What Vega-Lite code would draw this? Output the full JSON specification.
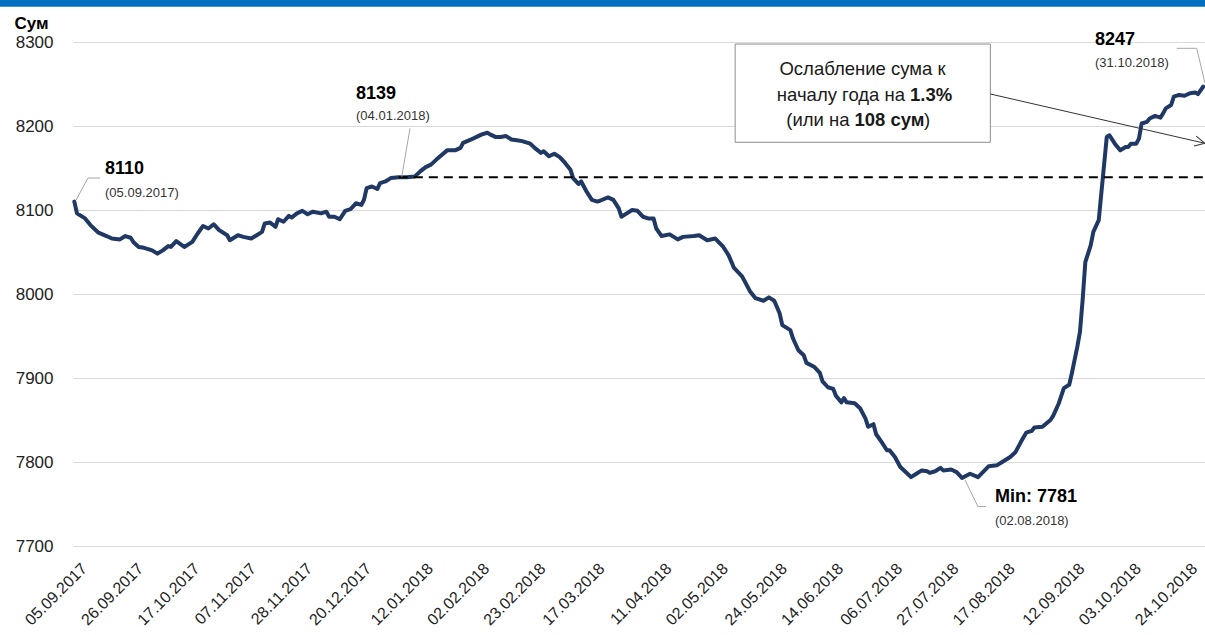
{
  "$schema": "https://vega.github.io/schema/vega-lite/v6.json",
  "width": 1133,
  "height": 504,
  "autosize": {"type": "none"},
  "padding": {"left": 73, "top": 42, "right": 0, "bottom": 89},
  "background": "white",
  "config": {"view": {"stroke": null}, "font": "Liberation Sans"},
  "layer": [
    {
      "data": {"values": [{}]},
      "mark": {"type": "rect", "color": "#0070C0", "clip": false},
      "encoding": {
        "x": {"datum": {"year": 2017, "month": 7, "date": 1, "utc": true}, "type": "temporal"},
        "x2": {"datum": {"year": 2018, "month": 12, "date": 1, "utc": true}},
        "y": {"datum": 8342, "type": "quantitative"},
        "y2": {"datum": 8420}
      }
    },
    {
      "data": {"values": [
        {"date": "2017-09-05", "rate": 8110}, {"date": "2017-09-06", "rate": 8096}, {"date": "2017-09-09", "rate": 8090},
        {"date": "2017-09-11", "rate": 8082}, {"date": "2017-09-14", "rate": 8073}, {"date": "2017-09-17", "rate": 8069},
        {"date": "2017-09-19", "rate": 8066}, {"date": "2017-09-22", "rate": 8065}, {"date": "2017-09-24", "rate": 8069},
        {"date": "2017-09-26", "rate": 8067}, {"date": "2017-09-27", "rate": 8062}, {"date": "2017-09-29", "rate": 8056},
        {"date": "2017-10-01", "rate": 8055}, {"date": "2017-10-04", "rate": 8052}, {"date": "2017-10-06", "rate": 8048},
        {"date": "2017-10-08", "rate": 8052}, {"date": "2017-10-10", "rate": 8057}, {"date": "2017-10-11", "rate": 8056},
        {"date": "2017-10-13", "rate": 8063}, {"date": "2017-10-16", "rate": 8056}, {"date": "2017-10-19", "rate": 8062},
        {"date": "2017-10-21", "rate": 8072}, {"date": "2017-10-23", "rate": 8081}, {"date": "2017-10-25", "rate": 8078},
        {"date": "2017-10-27", "rate": 8083}, {"date": "2017-10-29", "rate": 8076}, {"date": "2017-11-01", "rate": 8070},
        {"date": "2017-11-02", "rate": 8064}, {"date": "2017-11-05", "rate": 8070}, {"date": "2017-11-07", "rate": 8068},
        {"date": "2017-11-10", "rate": 8066}, {"date": "2017-11-12", "rate": 8070}, {"date": "2017-11-14", "rate": 8074},
        {"date": "2017-11-15", "rate": 8084}, {"date": "2017-11-17", "rate": 8085}, {"date": "2017-11-19", "rate": 8080},
        {"date": "2017-11-20", "rate": 8089}, {"date": "2017-11-22", "rate": 8086}, {"date": "2017-11-24", "rate": 8093},
        {"date": "2017-11-25", "rate": 8091}, {"date": "2017-11-27", "rate": 8096}, {"date": "2017-11-29", "rate": 8099},
        {"date": "2017-12-01", "rate": 8095}, {"date": "2017-12-03", "rate": 8098}, {"date": "2017-12-06", "rate": 8096},
        {"date": "2017-12-08", "rate": 8098}, {"date": "2017-12-09", "rate": 8092}, {"date": "2017-12-11", "rate": 8092},
        {"date": "2017-12-13", "rate": 8089}, {"date": "2017-12-15", "rate": 8099}, {"date": "2017-12-17", "rate": 8101},
        {"date": "2017-12-19", "rate": 8108}, {"date": "2017-12-21", "rate": 8106}, {"date": "2017-12-22", "rate": 8112},
        {"date": "2017-12-23", "rate": 8126}, {"date": "2017-12-25", "rate": 8128}, {"date": "2017-12-27", "rate": 8125},
        {"date": "2017-12-28", "rate": 8132}, {"date": "2017-12-30", "rate": 8134}, {"date": "2018-01-01", "rate": 8138},
        {"date": "2018-01-04", "rate": 8139}, {"date": "2018-01-07", "rate": 8139}, {"date": "2018-01-10", "rate": 8140},
        {"date": "2018-01-12", "rate": 8146}, {"date": "2018-01-14", "rate": 8151}, {"date": "2018-01-16", "rate": 8154},
        {"date": "2018-01-18", "rate": 8160}, {"date": "2018-01-22", "rate": 8171}, {"date": "2018-01-25", "rate": 8171},
        {"date": "2018-01-27", "rate": 8174}, {"date": "2018-01-28", "rate": 8180}, {"date": "2018-01-31", "rate": 8184},
        {"date": "2018-02-02", "rate": 8187}, {"date": "2018-02-04", "rate": 8190}, {"date": "2018-02-06", "rate": 8192},
        {"date": "2018-02-07", "rate": 8190}, {"date": "2018-02-09", "rate": 8187}, {"date": "2018-02-11", "rate": 8187},
        {"date": "2018-02-13", "rate": 8188}, {"date": "2018-02-15", "rate": 8184}, {"date": "2018-02-17", "rate": 8183},
        {"date": "2018-02-19", "rate": 8182}, {"date": "2018-02-22", "rate": 8179}, {"date": "2018-02-24", "rate": 8173},
        {"date": "2018-02-26", "rate": 8168}, {"date": "2018-02-27", "rate": 8170}, {"date": "2018-03-01", "rate": 8164},
        {"date": "2018-03-03", "rate": 8167}, {"date": "2018-03-05", "rate": 8163}, {"date": "2018-03-07", "rate": 8156},
        {"date": "2018-03-09", "rate": 8148}, {"date": "2018-03-10", "rate": 8138}, {"date": "2018-03-12", "rate": 8131},
        {"date": "2018-03-13", "rate": 8134}, {"date": "2018-03-15", "rate": 8122}, {"date": "2018-03-17", "rate": 8112},
        {"date": "2018-03-19", "rate": 8110}, {"date": "2018-03-20", "rate": 8111}, {"date": "2018-03-23", "rate": 8115},
        {"date": "2018-03-25", "rate": 8112}, {"date": "2018-03-27", "rate": 8102}, {"date": "2018-03-28", "rate": 8092},
        {"date": "2018-03-30", "rate": 8096}, {"date": "2018-04-01", "rate": 8100}, {"date": "2018-04-03", "rate": 8099},
        {"date": "2018-04-05", "rate": 8092}, {"date": "2018-04-07", "rate": 8090}, {"date": "2018-04-09", "rate": 8090},
        {"date": "2018-04-10", "rate": 8078}, {"date": "2018-04-12", "rate": 8069}, {"date": "2018-04-15", "rate": 8071},
        {"date": "2018-04-18", "rate": 8065}, {"date": "2018-04-20", "rate": 8068}, {"date": "2018-04-24", "rate": 8069},
        {"date": "2018-04-26", "rate": 8070}, {"date": "2018-04-29", "rate": 8064}, {"date": "2018-05-02", "rate": 8066},
        {"date": "2018-05-05", "rate": 8056}, {"date": "2018-05-07", "rate": 8046}, {"date": "2018-05-09", "rate": 8031},
        {"date": "2018-05-12", "rate": 8021}, {"date": "2018-05-13", "rate": 8015}, {"date": "2018-05-15", "rate": 8003},
        {"date": "2018-05-17", "rate": 7995}, {"date": "2018-05-20", "rate": 7992}, {"date": "2018-05-22", "rate": 7996},
        {"date": "2018-05-24", "rate": 7992}, {"date": "2018-05-26", "rate": 7977}, {"date": "2018-05-27", "rate": 7963},
        {"date": "2018-05-30", "rate": 7957}, {"date": "2018-05-31", "rate": 7947}, {"date": "2018-06-02", "rate": 7933},
        {"date": "2018-06-04", "rate": 7927}, {"date": "2018-06-05", "rate": 7918}, {"date": "2018-06-08", "rate": 7913},
        {"date": "2018-06-10", "rate": 7906}, {"date": "2018-06-11", "rate": 7896}, {"date": "2018-06-13", "rate": 7889},
        {"date": "2018-06-15", "rate": 7887}, {"date": "2018-06-16", "rate": 7879}, {"date": "2018-06-18", "rate": 7871},
        {"date": "2018-06-19", "rate": 7876}, {"date": "2018-06-20", "rate": 7871}, {"date": "2018-06-23", "rate": 7870},
        {"date": "2018-06-25", "rate": 7864}, {"date": "2018-06-27", "rate": 7852}, {"date": "2018-06-28", "rate": 7842},
        {"date": "2018-06-30", "rate": 7845}, {"date": "2018-07-01", "rate": 7833}, {"date": "2018-07-03", "rate": 7824},
        {"date": "2018-07-05", "rate": 7814}, {"date": "2018-07-06", "rate": 7814}, {"date": "2018-07-08", "rate": 7806},
        {"date": "2018-07-10", "rate": 7794}, {"date": "2018-07-12", "rate": 7788}, {"date": "2018-07-14", "rate": 7782},
        {"date": "2018-07-16", "rate": 7786}, {"date": "2018-07-18", "rate": 7790}, {"date": "2018-07-20", "rate": 7789},
        {"date": "2018-07-21", "rate": 7787}, {"date": "2018-07-23", "rate": 7789}, {"date": "2018-07-25", "rate": 7793},
        {"date": "2018-07-26", "rate": 7790}, {"date": "2018-07-29", "rate": 7791}, {"date": "2018-07-31", "rate": 7788},
        {"date": "2018-08-02", "rate": 7781}, {"date": "2018-08-05", "rate": 7786}, {"date": "2018-08-08", "rate": 7782},
        {"date": "2018-08-12", "rate": 7795}, {"date": "2018-08-15", "rate": 7796}, {"date": "2018-08-17", "rate": 7800},
        {"date": "2018-08-20", "rate": 7806}, {"date": "2018-08-22", "rate": 7812}, {"date": "2018-08-24", "rate": 7824},
        {"date": "2018-08-26", "rate": 7835}, {"date": "2018-08-28", "rate": 7837}, {"date": "2018-08-29", "rate": 7841},
        {"date": "2018-09-01", "rate": 7842}, {"date": "2018-09-04", "rate": 7850}, {"date": "2018-09-05", "rate": 7855},
        {"date": "2018-09-07", "rate": 7869}, {"date": "2018-09-09", "rate": 7888}, {"date": "2018-09-11", "rate": 7892},
        {"date": "2018-09-12", "rate": 7906}, {"date": "2018-09-14", "rate": 7937}, {"date": "2018-09-15", "rate": 7955},
        {"date": "2018-09-16", "rate": 7993}, {"date": "2018-09-17", "rate": 8038}, {"date": "2018-09-19", "rate": 8058},
        {"date": "2018-09-20", "rate": 8074}, {"date": "2018-09-22", "rate": 8088}, {"date": "2018-09-25", "rate": 8187},
        {"date": "2018-09-26", "rate": 8189}, {"date": "2018-09-28", "rate": 8179}, {"date": "2018-09-30", "rate": 8171},
        {"date": "2018-10-02", "rate": 8175}, {"date": "2018-10-03", "rate": 8175}, {"date": "2018-10-04", "rate": 8179},
        {"date": "2018-10-06", "rate": 8179}, {"date": "2018-10-07", "rate": 8185}, {"date": "2018-10-08", "rate": 8203},
        {"date": "2018-10-10", "rate": 8205}, {"date": "2018-10-11", "rate": 8209}, {"date": "2018-10-13", "rate": 8212},
        {"date": "2018-10-15", "rate": 8210}, {"date": "2018-10-16", "rate": 8215}, {"date": "2018-10-17", "rate": 8221},
        {"date": "2018-10-19", "rate": 8225}, {"date": "2018-10-20", "rate": 8235}, {"date": "2018-10-22", "rate": 8237},
        {"date": "2018-10-24", "rate": 8236}, {"date": "2018-10-26", "rate": 8239}, {"date": "2018-10-28", "rate": 8240},
        {"date": "2018-10-29", "rate": 8238}, {"date": "2018-10-31", "rate": 8247}
      ]},
      "mark": {"type": "line", "color": "#203864", "strokeWidth": 4, "strokeJoin": "round", "strokeCap": "round"},
      "encoding": {
        "x": {
          "field": "date", "type": "temporal",
          "scale": {"type": "utc", "domain": [{"year": 2017, "month": 9, "date": 4, "hours": 12, "utc": true}, {"year": 2018, "month": 11, "date": 1, "utc": true}]},
          "axis": {
            "values": [
              {"year": 2017, "month": 9, "date": 5, "utc": true}, {"year": 2017, "month": 9, "date": 26, "utc": true},
              {"year": 2017, "month": 10, "date": 17, "utc": true}, {"year": 2017, "month": 11, "date": 7, "utc": true},
              {"year": 2017, "month": 11, "date": 28, "utc": true}, {"year": 2017, "month": 12, "date": 20, "utc": true},
              {"year": 2018, "month": 1, "date": 12, "utc": true}, {"year": 2018, "month": 2, "date": 2, "utc": true},
              {"year": 2018, "month": 2, "date": 23, "utc": true}, {"year": 2018, "month": 3, "date": 17, "utc": true},
              {"year": 2018, "month": 4, "date": 11, "utc": true}, {"year": 2018, "month": 5, "date": 2, "utc": true},
              {"year": 2018, "month": 5, "date": 24, "utc": true}, {"year": 2018, "month": 6, "date": 14, "utc": true},
              {"year": 2018, "month": 7, "date": 6, "utc": true}, {"year": 2018, "month": 7, "date": 27, "utc": true},
              {"year": 2018, "month": 8, "date": 17, "utc": true}, {"year": 2018, "month": 9, "date": 12, "utc": true},
              {"year": 2018, "month": 10, "date": 3, "utc": true}, {"year": 2018, "month": 10, "date": 24, "utc": true}
            ],
            "format": "%d.%m.%Y", "labelAngle": -45, "labelFontSize": 16, "labelColor": "#222222",
            "labelOffset": 4, "labelPadding": 14, "ticks": false, "domain": false, "grid": false,
            "title": null, "labelOverlap": false, "labelFlush": false, "labelBound": false
          }
        },
        "y": {
          "field": "rate", "type": "quantitative",
          "scale": {"domain": [7700, 8300], "nice": false, "zero": false},
          "axis": {
            "values": [7700, 7800, 7900, 8000, 8100, 8200, 8300], "format": "d",
            "labelFontSize": 17, "labelColor": "#222222", "labelPadding": 20, "ticks": false, "domain": false,
            "grid": true, "gridColor": "#d9d9d9", "gridWidth": 1,
            "title": "Сум", "titleAngle": 0, "titleFontSize": 17, "titleFontWeight": "bold", "titleColor": "#000000",
            "titleAlign": "left", "titleBaseline": "alphabetic", "titleX": -59, "titleY": -14
          }
        }
      }
    },
    {
      "data": {"values": [{}]},
      "mark": {"type": "rule", "color": "#000000", "strokeWidth": 2, "strokeDash": [9, 6]},
      "encoding": {
        "x": {"datum": {"year": 2018, "month": 1, "date": 4, "utc": true}, "type": "temporal"},
        "x2": {"datum": {"year": 2018, "month": 11, "date": 1, "utc": true}},
        "y": {"datum": 8139, "type": "quantitative"}
      }
    },
    {
      "data": {"values": [{}]},
      "mark": {"type": "rect", "fill": "#ffffff", "stroke": "#8c8c8c", "strokeWidth": 1},
      "encoding": {
        "x": {"datum": {"year": 2018, "month": 5, "date": 9, "hours": 10, "utc": true}, "type": "temporal"},
        "x2": {"datum": {"year": 2018, "month": 8, "date": 12, "hours": 14, "utc": true}},
        "y": {"datum": 8297.6, "type": "quantitative"},
        "y2": {"datum": 8180.6}
      }
    },
    {
      "data": {"values": [{}]},
      "mark": {"type": "text", "text": "Ослабление сума к", "fontSize": 18.5, "color": "#1a1a1a", "align": "center", "baseline": "middle", "dy": 27},
      "encoding": {"x": {"datum": {"year": 2018, "month": 6, "date": 25, "hours": 22, "utc": true}, "type": "temporal"}, "y": {"datum": 8300, "type": "quantitative"}}
    },
    {
      "data": {"values": [{}]},
      "mark": {"type": "text", "text": "началу года на", "fontSize": 18.5, "color": "#1a1a1a", "align": "right", "baseline": "middle", "dx": 42.5, "dy": 52.7},
      "encoding": {"x": {"datum": {"year": 2018, "month": 6, "date": 25, "hours": 22, "utc": true}, "type": "temporal"}, "y": {"datum": 8300, "type": "quantitative"}}
    },
    {
      "data": {"values": [{}]},
      "mark": {"type": "text", "text": "1.3%", "fontSize": 18.5, "fontWeight": "bold", "color": "#1a1a1a", "align": "left", "baseline": "middle", "dx": 47.5, "dy": 52.7},
      "encoding": {"x": {"datum": {"year": 2018, "month": 6, "date": 25, "hours": 22, "utc": true}, "type": "temporal"}, "y": {"datum": 8300, "type": "quantitative"}}
    },
    {
      "data": {"values": [{}]},
      "mark": {"type": "text", "text": "(или на", "fontSize": 18.5, "color": "#1a1a1a", "align": "right", "baseline": "middle", "dx": -13, "dy": 77.7},
      "encoding": {"x": {"datum": {"year": 2018, "month": 6, "date": 25, "hours": 22, "utc": true}, "type": "temporal"}, "y": {"datum": 8300, "type": "quantitative"}}
    },
    {
      "data": {"values": [{}]},
      "mark": {"type": "text", "text": "108 сум", "fontSize": 18.5, "fontWeight": "bold", "color": "#1a1a1a", "align": "left", "baseline": "middle", "dx": -8, "dy": 77.7},
      "encoding": {"x": {"datum": {"year": 2018, "month": 6, "date": 25, "hours": 22, "utc": true}, "type": "temporal"}, "y": {"datum": 8300, "type": "quantitative"}}
    },
    {
      "data": {"values": [{}]},
      "mark": {"type": "text", "text": ")", "fontSize": 18.5, "color": "#1a1a1a", "align": "left", "baseline": "middle", "dx": 61.5, "dy": 77.7},
      "encoding": {"x": {"datum": {"year": 2018, "month": 6, "date": 25, "hours": 22, "utc": true}, "type": "temporal"}, "y": {"datum": 8300, "type": "quantitative"}}
    },
    {
      "data": {"values": [{}]},
      "mark": {"type": "rule", "color": "#333333", "strokeWidth": 1},
      "encoding": {
        "x": {"datum": {"year": 2018, "month": 8, "date": 12, "hours": 14, "utc": true}, "type": "temporal"},
        "y": {"datum": 8238.1, "type": "quantitative"},
        "x2": {"datum": {"year": 2018, "month": 10, "date": 31, "hours": 14, "utc": true}},
        "y2": {"datum": 8179.4}
      }
    },
    {
      "data": {"values": [{}]},
      "mark": {"type": "point", "shape": "M -1 -0.5 L 0 0 L -1 0.5", "size": 400, "filled": false, "stroke": "#333333", "strokeWidth": 1, "angle": 12.9, "opacity": 1, "clip": false},
      "encoding": {
        "x": {"datum": {"year": 2018, "month": 10, "date": 31, "hours": 14, "utc": true}, "type": "temporal"},
        "y": {"datum": 8179.4, "type": "quantitative"}
      }
    },
    {
      "data": {"values": [{}]},
      "mark": {"type": "rule", "color": "#a6a6a6", "strokeWidth": 1, "xOffset": 1.7, "yOffset": -1.6, "x2Offset": 13.7, "y2Offset": -23.6},
      "encoding": {
        "x": {"datum": {"year": 2017, "month": 9, "date": 5, "utc": true}, "type": "temporal"}, "y": {"datum": 8110, "type": "quantitative"},
        "x2": {"datum": {"year": 2017, "month": 9, "date": 5, "utc": true}}, "y2": {"datum": 8110}
      }
    },
    {
      "data": {"values": [{}]},
      "mark": {"type": "rule", "color": "#a6a6a6", "strokeWidth": 1, "xOffset": 13.7, "yOffset": -23.6, "x2Offset": 25.7, "y2Offset": -23.6},
      "encoding": {
        "x": {"datum": {"year": 2017, "month": 9, "date": 5, "utc": true}, "type": "temporal"}, "y": {"datum": 8110, "type": "quantitative"},
        "x2": {"datum": {"year": 2017, "month": 9, "date": 5, "utc": true}}, "y2": {"datum": 8110}
      }
    },
    {
      "data": {"values": [{}]},
      "mark": {"type": "text", "text": "8110", "fontSize": 18, "fontWeight": "bold", "color": "#000000", "align": "left", "baseline": "middle", "dx": 30.7, "dy": -32.4},
      "encoding": {"x": {"datum": {"year": 2017, "month": 9, "date": 5, "utc": true}, "type": "temporal"}, "y": {"datum": 8110, "type": "quantitative"}}
    },
    {
      "data": {"values": [{}]},
      "mark": {"type": "text", "text": "(05.09.2017)", "fontSize": 13, "color": "#333333", "align": "left", "baseline": "middle", "dx": 30.7, "dy": -9.1},
      "encoding": {"x": {"datum": {"year": 2017, "month": 9, "date": 5, "utc": true}, "type": "temporal"}, "y": {"datum": 8110, "type": "quantitative"}}
    },
    {
      "data": {"values": [{}]},
      "mark": {"type": "rule", "color": "#a6a6a6", "strokeWidth": 1, "xOffset": 2.9, "yOffset": -0.5, "x2Offset": 11.2, "y2Offset": -48.9},
      "encoding": {
        "x": {"datum": {"year": 2018, "month": 1, "date": 4, "utc": true}, "type": "temporal"}, "y": {"datum": 8139, "type": "quantitative"},
        "x2": {"datum": {"year": 2018, "month": 1, "date": 4, "utc": true}}, "y2": {"datum": 8139}
      }
    },
    {
      "data": {"values": [{}]},
      "mark": {"type": "text", "text": "8139", "fontSize": 18, "fontWeight": "bold", "color": "#000000", "align": "left", "baseline": "middle", "dx": -42.8, "dy": -83},
      "encoding": {"x": {"datum": {"year": 2018, "month": 1, "date": 4, "utc": true}, "type": "temporal"}, "y": {"datum": 8139, "type": "quantitative"}}
    },
    {
      "data": {"values": [{}]},
      "mark": {"type": "text", "text": "(04.01.2018)", "fontSize": 13, "color": "#333333", "align": "left", "baseline": "middle", "dx": -42.8, "dy": -61},
      "encoding": {"x": {"datum": {"year": 2018, "month": 1, "date": 4, "utc": true}, "type": "temporal"}, "y": {"datum": 8139, "type": "quantitative"}}
    },
    {
      "data": {"values": [{}]},
      "mark": {"type": "rule", "color": "#a6a6a6", "strokeWidth": 1, "xOffset": 1.7, "yOffset": -3.2, "x2Offset": -6.6, "y2Offset": -38.2},
      "encoding": {
        "x": {"datum": {"year": 2018, "month": 10, "date": 31, "utc": true}, "type": "temporal"}, "y": {"datum": 8247, "type": "quantitative"},
        "x2": {"datum": {"year": 2018, "month": 10, "date": 31, "utc": true}}, "y2": {"datum": 8247}
      }
    },
    {
      "data": {"values": [{}]},
      "mark": {"type": "rule", "color": "#a6a6a6", "strokeWidth": 1, "xOffset": -6.6, "yOffset": -38.2, "x2Offset": -26.6, "y2Offset": -38.2},
      "encoding": {
        "x": {"datum": {"year": 2018, "month": 10, "date": 31, "utc": true}, "type": "temporal"}, "y": {"datum": 8247, "type": "quantitative"},
        "x2": {"datum": {"year": 2018, "month": 10, "date": 31, "utc": true}}, "y2": {"datum": 8247}
      }
    },
    {
      "data": {"values": [{}]},
      "mark": {"type": "text", "text": "8247", "fontSize": 18, "fontWeight": "bold", "color": "#000000", "align": "left", "baseline": "middle", "dx": -108.3, "dy": -46.5},
      "encoding": {"x": {"datum": {"year": 2018, "month": 10, "date": 31, "utc": true}, "type": "temporal"}, "y": {"datum": 8247, "type": "quantitative"}}
    },
    {
      "data": {"values": [{}]},
      "mark": {"type": "text", "text": "(31.10.2018)", "fontSize": 13, "color": "#333333", "align": "left", "baseline": "middle", "dx": -108.3, "dy": -23.5},
      "encoding": {"x": {"datum": {"year": 2018, "month": 10, "date": 31, "utc": true}, "type": "temporal"}, "y": {"datum": 8247, "type": "quantitative"}}
    },
    {
      "data": {"values": [{}]},
      "mark": {"type": "rule", "color": "#a6a6a6", "strokeWidth": 1, "xOffset": 3, "yOffset": 2, "x2Offset": 16, "y2Offset": 28.6},
      "encoding": {
        "x": {"datum": {"year": 2018, "month": 8, "date": 2, "utc": true}, "type": "temporal"}, "y": {"datum": 7781, "type": "quantitative"},
        "x2": {"datum": {"year": 2018, "month": 8, "date": 2, "utc": true}}, "y2": {"datum": 7781}
      }
    },
    {
      "data": {"values": [{}]},
      "mark": {"type": "rule", "color": "#a6a6a6", "strokeWidth": 1, "xOffset": 16, "yOffset": 28.6, "x2Offset": 24, "y2Offset": 28.6},
      "encoding": {
        "x": {"datum": {"year": 2018, "month": 8, "date": 2, "utc": true}, "type": "temporal"}, "y": {"datum": 7781, "type": "quantitative"},
        "x2": {"datum": {"year": 2018, "month": 8, "date": 2, "utc": true}}, "y2": {"datum": 7781}
      }
    },
    {
      "data": {"values": [{}]},
      "mark": {"type": "text", "text": "Min: 7781", "fontSize": 18, "fontWeight": "bold", "color": "#000000", "align": "left", "baseline": "middle", "dx": 33, "dy": 18.6},
      "encoding": {"x": {"datum": {"year": 2018, "month": 8, "date": 2, "utc": true}, "type": "temporal"}, "y": {"datum": 7781, "type": "quantitative"}}
    },
    {
      "data": {"values": [{}]},
      "mark": {"type": "text", "text": "(02.08.2018)", "fontSize": 13, "color": "#333333", "align": "left", "baseline": "middle", "dx": 33, "dy": 42.7},
      "encoding": {"x": {"datum": {"year": 2018, "month": 8, "date": 2, "utc": true}, "type": "temporal"}, "y": {"datum": 7781, "type": "quantitative"}}
    }
  ]
}
